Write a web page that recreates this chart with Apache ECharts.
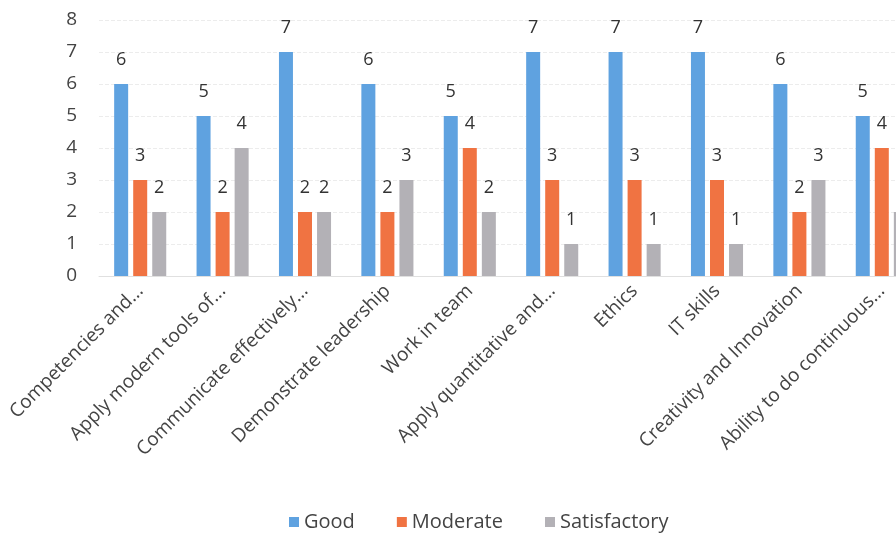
<!DOCTYPE html>
<html><head><meta charset="utf-8">
<script src="https://cdn.jsdelivr.net/npm/echarts@6/dist/echarts.min.js"></script>
<style>html,body{margin:0;padding:0;background:#fff}#c{width:896px;height:537px}</style>
</head><body><div id="c"></div>
<script>
const categories = ["Competencies and...","Apply modern tools of...","Communicate effectively...","Demonstrate leadership","Work in team","Apply quantitative and...","Ethics","IT skills","Creativity and Innovation","Ability to do continuous..."];
const good = [6,5,7,6,5,7,7,7,6,5];
const moderate = [3,2,2,2,4,3,3,3,2,4];
const satisfactory = [2,4,2,3,2,1,1,1,3,2];
const seriesNames = ["Good","Moderate","Satisfactory"];
const colors = ["#5fa2e0","#f07342","#b3b1b6"];
const font = "Open Sans";
const chart = echarts.init(document.getElementById('c'));
const lbl = {show:true,position:'top',distance:15,color:'#333',fontSize:18,fontFamily:font};
chart.setOption({
  animation:false,
  color:colors,
  grid:{left:99,width:824,top:20,height:256,outerBoundsMode:'none',containLabel:false},
  legend:{bottom:0,left:284,itemWidth:10,itemHeight:10,itemGap:42,icon:'rect',
    textStyle:{fontSize:20,color:'#444',fontFamily:font},data:seriesNames},
  xAxis:{type:'category',data:categories,
    axisLine:{lineStyle:{color:'#e0e0e0'}},axisTick:{show:false},
    axisLabel:{rotate:45,fontSize:19,color:'#444',fontFamily:font,interval:0,margin:12}},
  yAxis:{type:'value',min:0,max:8,interval:1,
    axisLabel:{fontSize:19,color:'#444',fontFamily:font,margin:22},
    splitLine:{lineStyle:{color:'#ececec',type:'dashed'}}},
  series:[
    {name:seriesNames[0],type:'bar',data:good,barWidth:14,barGap:'36%',label:lbl},
    {name:seriesNames[1],type:'bar',data:moderate,barWidth:14,label:lbl},
    {name:seriesNames[2],type:'bar',data:satisfactory,barWidth:14,label:lbl}
  ]
});
</script></body></html>
